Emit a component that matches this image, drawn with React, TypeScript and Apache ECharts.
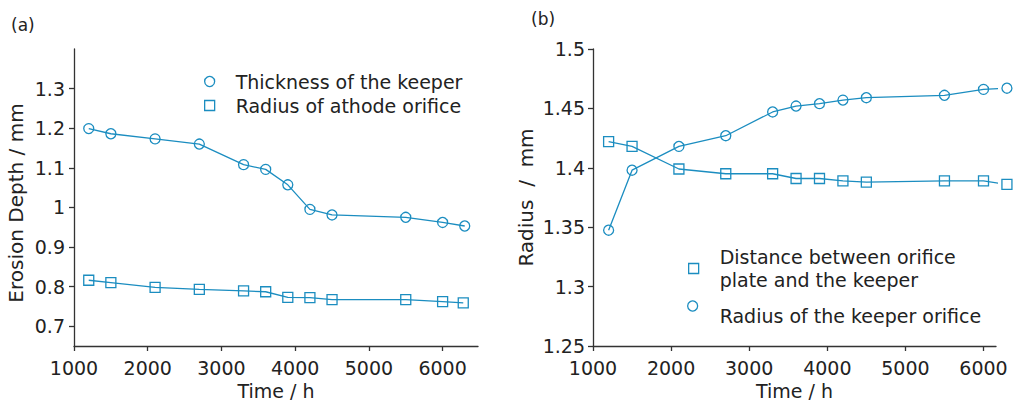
import React, { useEffect, useRef } from "react";
import * as echarts from "echarts";

// ---- Data (a) ----
const timeThickness = [1200, 1500, 2100, 2700, 3300, 3600, 3900, 4200, 4500, 5500, 6000, 6300];
const thicknessKeeper = [1.199, 1.186, 1.173, 1.16, 1.108, 1.096, 1.057, 0.995, 0.981, 0.975, 0.962, 0.953];
const timeRadiusA = [1200, 1500, 2100, 2700, 3300, 3600, 3900, 4200, 4500, 5500, 6000, 6280];
const radiusCathode = [0.816, 0.81, 0.798, 0.793, 0.789, 0.787, 0.773, 0.772, 0.767, 0.767, 0.762, 0.759];

// ---- Data (b) ----
const timeB = [1200, 1500, 2100, 2700, 3300, 3600, 3900, 4200, 4500, 5500, 6000, 6300];
const distanceOrificeKeeper = [1.422, 1.418, 1.399, 1.395, 1.395, 1.391, 1.391, 1.389, 1.388, 1.389, 1.389, 1.386];
const radiusKeeperOrifice = [1.3475, 1.398, 1.418, 1.427, 1.447, 1.452, 1.454, 1.457, 1.459, 1.461, 1.466, 1.467];

const nameThick = "Thickness of the keeper";
const nameRadA = "Radius of athode orifice";
const nameDist = "Distance between orifice\nplate and the keeper";
const nameRadB = "Radius of the keeper orifice";

const C = "#1b8dc0";
const TXT = "#222";
const FONT = "DejaVu Sans";

const zip = (xs: number[], ys: number[]) => xs.map((x, i) => [x, ys[i]]);

export default function App() {
  const ref = useRef<HTMLDivElement>(null);
  useEffect(() => {
    if (!ref.current) return;
    const chart = echarts.init(ref.current, null, { renderer: "svg" });
    const axisLine = { show: true, lineStyle: { color: "#333", width: 1.3 } };
    const axisTick = { show: true, length: 5, lineStyle: { color: "#333", width: 1.3 } };
    const nameStyle = { fontSize: 20, color: TXT, fontFamily: FONT };
    const labelBase = { fontSize: 19, color: TXT, fontFamily: FONT };
    const markerStyle = { color: "rgba(255,255,255,0)", borderColor: C, borderWidth: 1.3 };
    const lineS = (name: string, data: number[][], idx: number, symbol: string) => ({
      type: "line",
      name,
      data,
      xAxisIndex: idx,
      yAxisIndex: idx,
      symbol,
      symbolSize: 10,
      showAllSymbol: true,
      clip: false,
      itemStyle: markerStyle,
      lineStyle: { color: C, width: 1.3 },
      emphasis: { disabled: true },
    });
    const legendCommon = {
      orient: "vertical",
      padding: 0,
      itemWidth: 10,
      itemHeight: 10,
      itemStyle: { color: "rgba(255,255,255,0)", borderColor: C, borderWidth: 1.3 },
      selectedMode: false,
    };
    const xLabel = { ...labelBase, margin: 12, showMaxLabel: false, formatter: (v: number) => String(v) };
    const xName = { ...nameStyle, fontSize: 19, lineHeight: 18 };
    chart.setOption({
      animation: false,
      backgroundColor: "#fff",
      grid: [
        { left: 74, top: 49, width: 404, height: 297, outerBoundsMode: "none", containLabel: false },
        { left: 593, top: 49, width: 403, height: 297, outerBoundsMode: "none", containLabel: false },
      ],
      xAxis: [
        {
          type: "value",
          gridIndex: 0,
          min: 1000,
          max: 6480,
          interval: 1000,
          axisLine,
          axisTick,
          splitLine: { show: false },
          axisLabel: xLabel,
          name: "Time / h",
          nameLocation: "middle",
          nameGap: 31,
          nameTextStyle: xName,
        },
        {
          type: "value",
          gridIndex: 1,
          min: 1000,
          max: 6160,
          interval: 1000,
          axisLine,
          axisTick,
          splitLine: { show: false },
          axisLabel: xLabel,
          name: "Time / h",
          nameLocation: "middle",
          nameGap: 30,
          nameTextStyle: xName,
        },
      ],
      yAxis: [
        {
          type: "value",
          gridIndex: 0,
          min: 0.65,
          max: 1.4,
          splitNumber: 7,
          axisLine,
          axisTick,
          splitLine: { show: false },
          axisLabel: {
            ...labelBase,
            margin: 9,
            showMinLabel: false,
            showMaxLabel: false,
            formatter: (v: number) => (Math.abs(v - 1) < 1e-9 ? "1" : String(Math.round(v * 10) / 10)),
          },
          name: "Erosion Depth / mm",
          nameLocation: "middle",
          nameGap: 48,
          nameTextStyle: { ...nameStyle, padding: [0, 11, 0, 0] },
        },
        {
          type: "value",
          gridIndex: 1,
          min: 1.25,
          max: 1.5,
          interval: 0.05,
          axisLine,
          axisTick,
          splitLine: { show: false },
          axisLabel: {
            ...labelBase,
            margin: 8,
            formatter: (v: number) => String(Math.round(v * 100) / 100),
          },
          name: "Radius  /  mm",
          nameLocation: "middle",
          nameGap: 57,
          nameTextStyle: nameStyle,
        },
      ],
      legend: [
        {
          ...legendCommon,
          left: 204,
          top: 72,
          itemGap: 5,
          data: [
            { name: nameThick, icon: "circle" },
            { name: nameRadA, icon: "rect" },
          ],
          textStyle: { fontSize: 19, lineHeight: 19, color: TXT, fontFamily: FONT, padding: [0, 0, 0, 16] },
        },
        {
          ...legendCommon,
          left: 688,
          top: 245,
          data: [{ name: nameDist, icon: "rect" }],
          textStyle: { fontSize: 19, lineHeight: 23.5, color: TXT, fontFamily: FONT, padding: [0, 0, 0, 16] },
        },
        {
          ...legendCommon,
          left: 687,
          top: 287,
          data: [{ name: nameRadB, icon: "circle" }],
          formatter: (n: string) => "\n" + n,
          textStyle: { fontSize: 19, lineHeight: 19, color: TXT, fontFamily: FONT, padding: [0, 0, 0, 17] },
        },
      ],
      graphic: [
        { type: "text", x: 11, y: 25, style: { text: "(a)", fontSize: 17, fill: TXT, fontFamily: FONT, verticalAlign: "middle" } },
        { type: "text", x: 531, y: 19, style: { text: "(b)", fontSize: 17, fill: TXT, fontFamily: FONT, verticalAlign: "middle" } },
      ],
      series: [
        lineS(nameThick, zip(timeThickness, thicknessKeeper), 0, "circle"),
        lineS(nameRadA, zip(timeRadiusA, radiusCathode), 0, "rect"),
        lineS(nameDist, zip(timeB, distanceOrificeKeeper), 1, "rect"),
        lineS(nameRadB, zip(timeB, radiusKeeperOrifice), 1, "circle"),
      ],
    });
    return () => chart.dispose();
  }, []);
  return <div ref={ref} style={{ position: "fixed", left: 0, top: 0, width: 1014, height: 401 }} />;
}
